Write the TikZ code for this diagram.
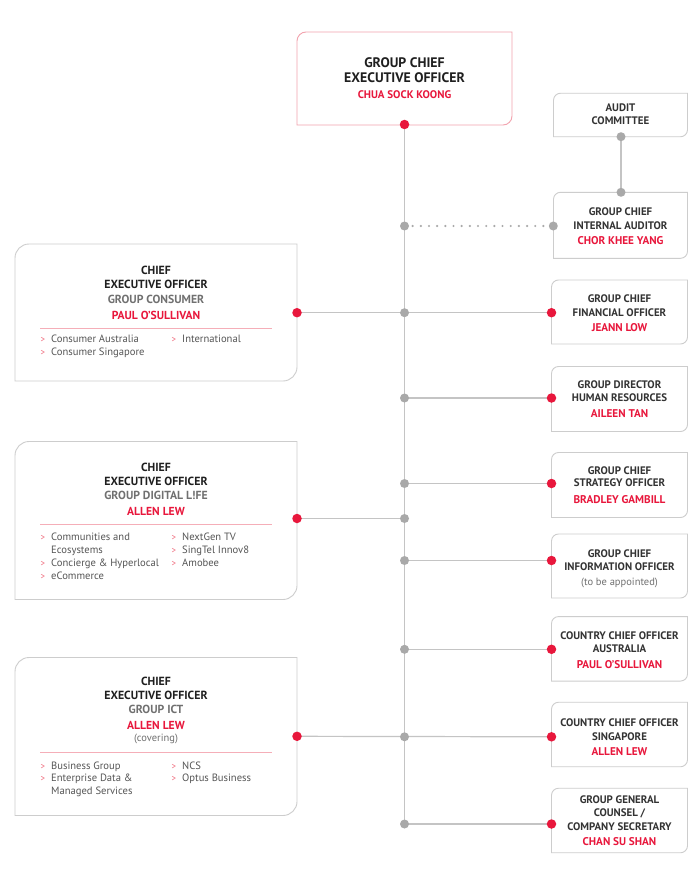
\documentclass[tikz,border=0pt]{standalone}
\usepackage{fontspec}
\setmainfont{PT Sans}
\usetikzlibrary{calc}
\definecolor{sred}{HTML}{E8173C}
\definecolor{bulletred}{HTML}{F06A7C}
\definecolor{boxgray}{HTML}{CDCDCD}
\definecolor{ceoborder}{HTML}{F2A3AE}
\definecolor{linegray}{HTML}{C4C4C4}
\definecolor{dotgray}{HTML}{A9A9A9}
\definecolor{pinkline}{HTML}{F5AEB8}
\definecolor{ttl}{HTML}{1F1F1F}
\definecolor{rttl}{HTML}{333333}
\definecolor{subgray}{HTML}{707070}
\definecolor{bodygray}{HTML}{555555}
\pgfdeclarelayer{bg}
\pgfsetlayers{bg,main}
% frame with rounded top-left and bottom-right corners
\newcommand\orgframe[3]{%
  \draw[#3] (#1.south west) -- ($(#1.north west)+(0,#2)$)
    arc[start angle=180, end angle=90, radius=#2pt] -- (#1.north east)
    -- ($(#1.south east)-(0,#2)$)
    arc[start angle=0, end angle=-90, radius=#2pt] -- cycle;}
\begin{document}
\begin{tikzpicture}[x=1pt,y=-1pt,
  boxn/.style={rectangle, inner sep=0pt, outer sep=0pt, draw=none},
  frame/.style={draw=boxgray, line width=0.9pt},
  ceoframe/.style={draw=ceoborder, line width=0.9pt},
  txt/.style={anchor=base, inner sep=0pt},
  ceot/.style={txt, font=\bfseries\fontsize{13.8}{13.8}\selectfont, text=ttl},
  ceon/.style={txt, font=\bfseries\fontsize{11}{11}\selectfont, text=sred},
  lt/.style={txt, font=\bfseries\fontsize{11.8}{11.8}\selectfont, text=ttl},
  ls/.style={txt, font=\bfseries\fontsize{11.7}{11.7}\selectfont, text=subgray},
  ln/.style={txt, font=\bfseries\fontsize{11.6}{11.6}\selectfont, text=sred},
  rt/.style={txt, font=\bfseries\fontsize{10.9}{10.9}\selectfont, text=rttl},
  rn/.style={txt, font=\bfseries\fontsize{11.2}{11.2}\selectfont, text=sred},
  note/.style={txt, font=\fontsize{10.5}{10.5}\selectfont, text=subgray},
  bul/.style={anchor=base west, inner sep=0pt, font=\fontsize{9}{9}\selectfont, text=bulletred},
  item/.style={anchor=base west, inner sep=0pt, font=\fontsize{10.6}{10.6}\selectfont, text=bodygray},
  reddot/.style={circle, fill=sred, draw=none, minimum size=9.5pt, inner sep=0pt},
  graydot/.style={circle, fill=dotgray, draw=none, minimum size=9pt, inner sep=0pt},
  conn/.style={draw=linegray, line width=1.2pt},
  dotconn/.style={draw=dotgray, line width=2.4pt, line cap=round, dash pattern=on 0pt off 8.17pt}
]
\begin{pgfonlayer}{bg}
\fill[white] (0,0) rectangle (700,872);
\end{pgfonlayer}
\useasboundingbox (0,0) rectangle (700,872);

% ---------- boxes ----------
\node[boxn, minimum width=215pt, minimum height=93pt] (ceo) at (404.5,78.5) {};
\node[boxn, minimum width=134pt, minimum height=43.5pt] (audit) at (620.5,115) {};
\node[boxn, minimum width=134pt, minimum height=66pt] (ia) at (620.5,225.3) {};
\node[boxn, minimum width=136pt, minimum height=64pt] (cfo) at (619.5,312) {};
\node[boxn, minimum width=136pt, minimum height=65pt] (hr) at (619.5,399) {};
\node[boxn, minimum width=136pt, minimum height=65pt] (strat) at (619.5,485) {};
\node[boxn, minimum width=136pt, minimum height=64pt] (cio) at (619.5,566) {};
\node[boxn, minimum width=136pt, minimum height=64.5pt] (aus) at (619.5,648.8) {};
\node[boxn, minimum width=136pt, minimum height=64.5pt] (sg) at (619.5,734.5) {};
\node[boxn, minimum width=136pt, minimum height=64.5pt] (gc) at (619.5,820.5) {};
\node[boxn, minimum width=282pt, minimum height=137pt] (cons) at (156,312.5) {};
\node[boxn, minimum width=282pt, minimum height=158pt] (dig) at (156,520.5) {};
\node[boxn, minimum width=282pt, minimum height=158pt] (ict) at (156,736.5) {};

\orgframe{ceo}{9}{ceoframe}
\orgframe{audit}{7}{frame}
\orgframe{ia}{7}{frame}
\orgframe{cfo}{7}{frame}
\orgframe{hr}{7}{frame}
\orgframe{strat}{7}{frame}
\orgframe{cio}{7}{frame}
\orgframe{aus}{7}{frame}
\orgframe{sg}{7}{frame}
\orgframe{gc}{7}{frame}
\orgframe{cons}{14}{frame}
\orgframe{dig}{14}{frame}
\orgframe{ict}{14}{frame}

% ---------- texts: top ----------
\node[ceot] (ceo1) at (404.5,68) {GROUP CHIEF};
\node[ceot] (ceo2) at (404.5,83) {EXECUTIVE OFFICER};
\node[ceon] (ceo3) at (404.5,99) {CHUA SOCK KOONG};

\node[rt] (au1) at (620.5,111.7) {AUDIT};
\node[rt] (au2) at (620.5,124.3) {COMMITTEE};

\node[rt] (ia1) at (620.5,215.7) {GROUP CHIEF};
\node[rt] (ia2) at (620.5,229) {INTERNAL AUDITOR};
\node[rn] (ia3) at (620.5,244.3) {CHOR KHEE YANG};

\node[rt] (cfo1) at (619.5,302.7) {GROUP CHIEF};
\node[rt] (cfo2) at (619.5,316) {FINANCIAL OFFICER};
\node[rn] (cfo3) at (619.5,331.7) {JEANN LOW};

\node[rt] (hr1) at (619.5,388.7) {GROUP DIRECTOR};
\node[rt] (hr2) at (619.5,401.7) {HUMAN RESOURCES};
\node[rn] (hr3) at (619.5,417.7) {AILEEN TAN};

\node[rt] (st1) at (619.5,474.3) {GROUP CHIEF};
\node[rt] (st2) at (619.5,486.7) {STRATEGY OFFICER};
\node[rn] (st3) at (619.5,503.3) {BRADLEY GAMBILL};

\node[rt] (cio1) at (619.5,557.3) {GROUP CHIEF};
\node[rt] (cio2) at (619.5,570.7) {INFORMATION OFFICER};
\node[note] (cio3) at (619.5,585.7) {(to be appointed)};

\node[rt] (aus1) at (619.5,639) {COUNTRY CHIEF OFFICER};
\node[rt] (aus2) at (619.5,652.3) {AUSTRALIA};
\node[rn] (aus3) at (619.5,668.3) {PAUL O'SULLIVAN};

\node[rt] (sg1) at (619.5,726.7) {COUNTRY CHIEF OFFICER};
\node[rt] (sg2) at (619.5,740) {SINGAPORE};
\node[rn] (sg3) at (619.5,755.7) {ALLEN LEW};

\node[rt] (gc1) at (619.5,803.3) {GROUP GENERAL};
\node[rt] (gc2) at (619.5,816.7) {COUNSEL /};
\node[rt] (gc3) at (619.5,830) {COMPANY SECRETARY};
\node[rn] (gc4) at (619.5,845.7) {CHAN SU SHAN};

% ---------- left boxes ----------
\node[lt] (cs1) at (156,274.3) {CHIEF};
\node[lt] (cs2) at (156,288.3) {EXECUTIVE OFFICER};
\node[ls] (cs3) at (156,303) {GROUP CONSUMER};
\node[ln] (cs4) at (156,319) {PAUL O'SULLIVAN};
\draw[pinkline, line width=0.9pt] (40,328) -- (271.7,328);
\node[bul] (csb1) at (40.5,342.7) {>};
\node[item] (csi1) at (51,342.7) {Consumer Australia};
\node[bul] (csb2) at (40.5,355.7) {>};
\node[item] (csi2) at (51,355.7) {Consumer Singapore};
\node[bul] (csb3) at (171.5,342.7) {>};
\node[item] (csi3) at (182,342.7) {International};

\node[lt] (dg1) at (156,471.7) {CHIEF};
\node[lt] (dg2) at (156,485) {EXECUTIVE OFFICER};
\node[ls] (dg3) at (156,499) {GROUP DIGITAL L!FE};
\node[ln] (dg4) at (156,515) {ALLEN LEW};
\draw[pinkline, line width=0.9pt] (40,524.3) -- (271.7,524.3);
\node[bul] (dgb1) at (40.5,540) {>};
\node[item] (dgi1) at (51,540) {Communities and};
\node[item] (dgi2) at (51,553) {Ecosystems};
\node[bul] (dgb3) at (40.5,566) {>};
\node[item] (dgi3) at (51,566) {Concierge \& Hyperlocal};
\node[bul] (dgb4) at (40.5,579) {>};
\node[item] (dgi4) at (51,579) {eCommerce};
\node[bul] (dgb5) at (171.5,540) {>};
\node[item] (dgi5) at (182,540) {NextGen TV};
\node[bul] (dgb6) at (171.5,553) {>};
\node[item] (dgi6) at (182,553) {SingTel Innov8};
\node[bul] (dgb7) at (171.5,566) {>};
\node[item] (dgi7) at (182,566) {Amobee};

\node[lt] (ic1) at (156,685) {CHIEF};
\node[lt] (ic2) at (156,699.3) {EXECUTIVE OFFICER};
\node[ls] (ic3) at (156,713.3) {GROUP ICT};
\node[ln] (ic4) at (156,729.3) {ALLEN LEW};
\node[note] (ic5) at (156,741) {(covering)};
\draw[pinkline, line width=0.9pt] (40,752.7) -- (271.7,752.7);
\node[bul] (icb1) at (40.5,769) {>};
\node[item] (ici1) at (51,769) {Business Group};
\node[bul] (icb2) at (40.5,781.7) {>};
\node[item] (ici2) at (51,781.7) {Enterprise Data \&};
\node[item] (ici3) at (51,794.5) {Managed Services};
\node[bul] (icb3) at (171.5,769) {>};
\node[item] (ici4) at (182,769) {NCS};
\node[bul] (icb4) at (171.5,781.7) {>};
\node[item] (ici5) at (182,781.7) {Optus Business};

% ---------- dots ----------
\node[reddot] (ceod) at (404.5,124.5) {};
\node[graydot] (auditd) at (621,136.7) {};
\node[graydot] (iatop) at (621,192.3) {};
\node[graydot] (iad) at (553.3,226) {};
\node[graydot] (jia) at (404.5,226) {};
\node[graydot] (jcons) at (404.5,312.7) {};
\node[graydot] (jhr) at (404.5,398) {};
\node[graydot] (jst) at (404.5,483.5) {};
\node[graydot] (jdig) at (404.5,518.5) {};
\node[graydot] (jcio) at (404.5,560.5) {};
\node[graydot] (jaus) at (404.5,649.3) {};
\node[graydot] (jict) at (404.5,736.8) {};
\node[graydot] (jgc) at (404.5,824) {};
\node[reddot] (consd) at (297,312.7) {};
\node[reddot] (digd) at (297,518.5) {};
\node[reddot] (ictd) at (297,736.3) {};
\node[reddot] (cfod) at (551.5,312.7) {};
\node[reddot] (hrd) at (551.5,398) {};
\node[reddot] (std) at (551.5,483.5) {};
\node[reddot] (ciod) at (551.5,560.5) {};
\node[reddot] (ausd) at (551.5,649.3) {};
\node[reddot] (sgd) at (551.5,736.8) {};
\node[reddot] (gcd) at (551.5,824) {};

% ---------- connectors ----------
\begin{pgfonlayer}{bg}
\draw[conn] (ceod.center) -- (jgc.center);
\draw[conn] (auditd.center) -- (iatop.center);
\draw[dotconn] (jia.center) -- (iad.center);
\draw[conn] (consd.center) -- (cfod.center);
\draw[conn] (jhr.center) -- (hrd.center);
\draw[conn] (jst.center) -- (std.center);
\draw[conn] (digd.center) -- (jdig.center);
\draw[conn] (jcio.center) -- (ciod.center);
\draw[conn] (jaus.center) -- (ausd.center);
\draw[conn] (ictd.center) -- (sgd.center);
\draw[conn] (jgc.center) -- (gcd.center);
\end{pgfonlayer}
\end{tikzpicture}
\end{document}
